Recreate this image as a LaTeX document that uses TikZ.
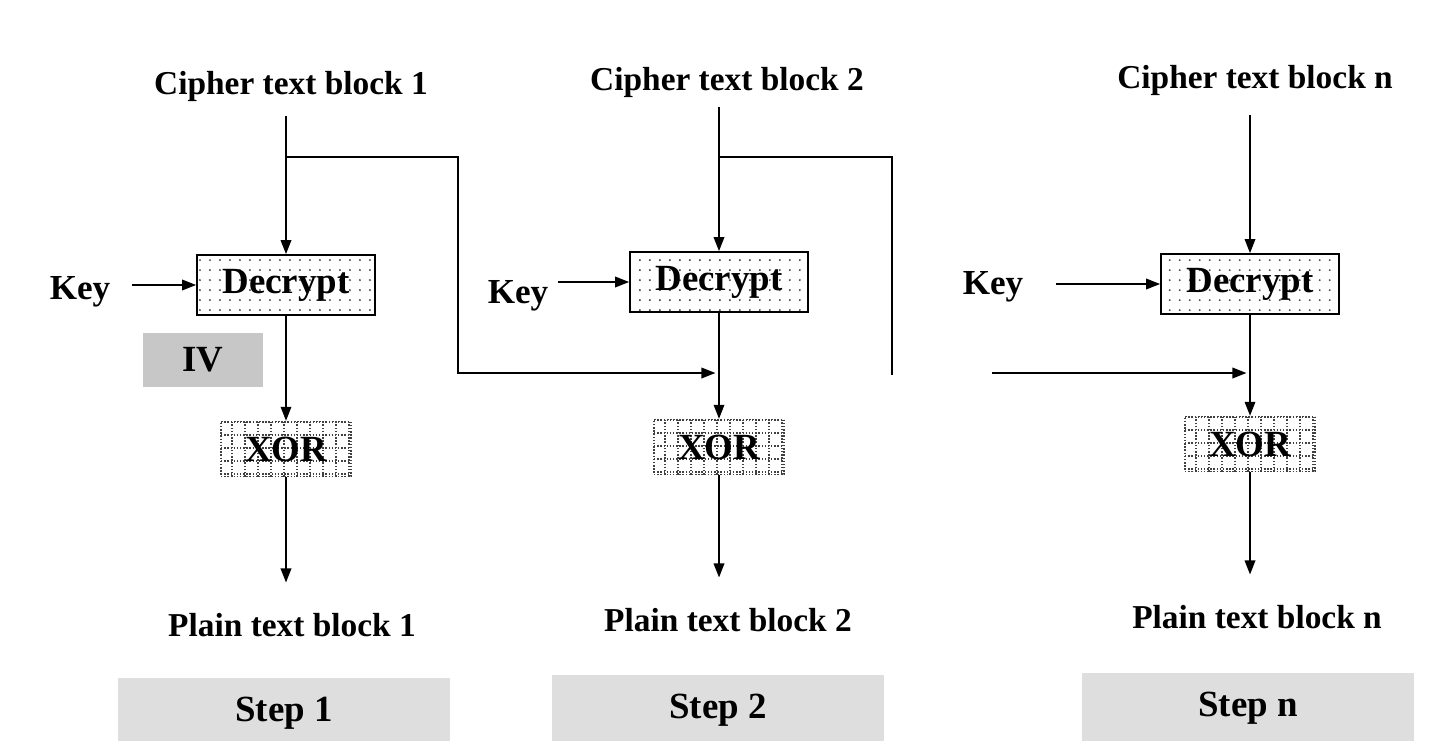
\documentclass[tikz,border=0pt]{standalone}
\usepackage{fontspec}
\setmainfont{Liberation Serif}
\usetikzlibrary{arrows.meta, patterns.meta}

\tikzset{
  blocktext/.style={font=\fontsize{19}{22}\selectfont\bfseries, inner sep=3pt},
  keytext/.style={font=\fontsize{20}{24}\selectfont\bfseries, inner sep=2pt},
  decbox/.style={draw, line width=1pt, minimum width=3.56cm, minimum height=1.2cm,
    pattern={Dots[distance=0.2cm, radius=0.6pt]}, pattern color=black!75,
    font=\fontsize{21}{24}\selectfont\bfseries},
  xorbox/.style={draw=black!75, densely dotted, line width=0.8pt,
    minimum width=2.6cm, minimum height=1.1cm,
    path picture={\draw[black!75, densely dotted, line width=0.8pt, step=0.26cm]
      (path picture bounding box.south west) grid (path picture bounding box.north east);},
    font=\fontsize{21}{24}\selectfont\bfseries},
  ivbox/.style={fill=black!22, minimum width=2.4cm, minimum height=1.08cm,
    font=\fontsize{21}{24}\selectfont\bfseries},
  stepbox/.style={fill=black!13, minimum width=6.64cm, minimum height=1.4cm,
    font=\fontsize{21}{24}\selectfont\bfseries}
}

\begin{document}
\begin{tikzpicture}[x=0.02cm, y=-0.02cm, >={Triangle[length=8pt,width=6pt]}, line width=1pt]
  \useasboundingbox (0,0) rectangle (1435,740);

  % step 1
  \node[blocktext] (c1) at (291,86) {Cipher text block 1};
  \node[decbox] (dec1) at (286,285) {Decrypt};
  \node[keytext] (key1) at (80,292) {Key};
  \node[ivbox] (iv) at (203,360) {IV};
  \node[xorbox] (xor1) at (286,449) {XOR};
  \node[blocktext] (p1) at (292,625) {Plain text block 1};
  \node[stepbox] (step1) at (284,713) {Step 1};

  % step 2
  \node[blocktext] (c2) at (727,82) {Cipher text block 2};
  \node[decbox] (dec2) at (719,282) {Decrypt};
  \node[keytext] (key2) at (518,296) {Key};
  \node[xorbox] (xor2) at (719,447) {XOR};
  \node[blocktext] (p2) at (728,620) {Plain text block 2};
  \node[stepbox] (step2) at (718,710) {Step 2};

  % step n
  \node[blocktext] (cn) at (1255,80) {Cipher text block n};
  \node[decbox] (decn) at (1250,284) {Decrypt};
  \node[keytext] (keyn) at (993,287) {Key};
  \node[xorbox] (xorn) at (1250,444) {XOR};
  \node[blocktext] (pn) at (1257,617) {Plain text block n};
  \node[stepbox] (stepn) at (1248,708) {Step n};

  % chaining taps
  \coordinate (tap1) at (286,157);
  \coordinate (bend1) at (458,373);
  \coordinate (tap2) at (719,157);
  \coordinate (end2) at (892,375);
  \coordinate (inn) at (992,373);

  % vertical flow
  \draw[->, shorten <=5pt] (c1.south -| dec1) -- (dec1);
  \draw[->] (dec1) -- (xor1);
  \draw[->, shorten >=14pt] (xor1) -- (p1.north -| xor1);
  \draw[->, shorten <=2pt] (c2.south -| dec2) -- (dec2);
  \draw[->] (dec2) -- (xor2);
  \draw[->, shorten >=14pt] (xor2) -- (p2.north -| xor2);
  \draw[->, shorten <=8pt] (cn.south -| decn) -- (decn);
  \draw[->] (decn) -- (xorn);
  \draw[->, shorten >=14pt] (xorn) -- (pn.north -| xorn);

  % keys
  \draw[->, shorten <=10pt] (key1.east |- dec1) -- (dec1);
  \draw[->, shorten <=3pt] (key2.east |- dec2) -- (dec2);
  \draw[->, shorten <=16pt] (keyn.east |- decn) -- (decn);

  % cipher block fed forward
  \draw[->, shorten >=2pt] (tap1) -| (bend1) -- (bend1 -| dec2.south);
  \draw (tap2) -| (end2);
  \draw[->, shorten >=2pt] (inn) -- (inn -| decn.south);
\end{tikzpicture}
\end{document}
